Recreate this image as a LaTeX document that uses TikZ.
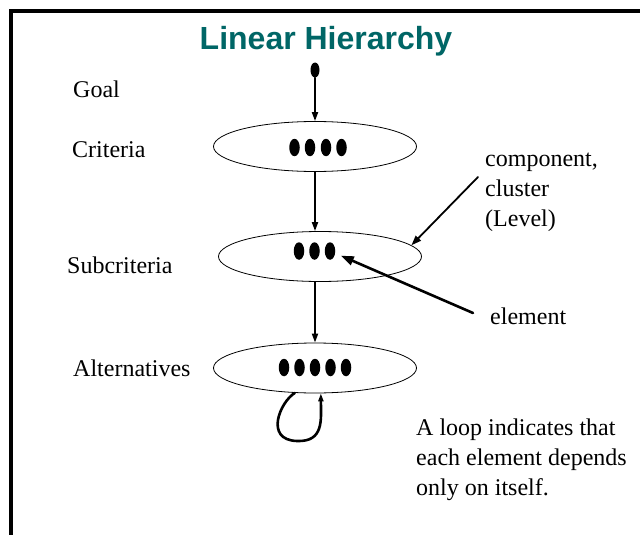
\documentclass[tikz,border=0pt]{standalone}
\usepackage{fontspec}
\setmainfont{Liberation Serif}
\newfontfamily\headfont{Liberation Sans}
\usetikzlibrary{arrows.meta,shapes.geometric}
\definecolor{headteal}{RGB}{0,102,102}

\begin{document}
\begin{tikzpicture}[line cap=round,line join=round,>={Triangle[length=9pt,width=6pt]},x=1pt,y=-1pt,
        level/.style={draw,ellipse,line width=0.8pt,minimum width=203pt,minimum height=50pt,inner sep=0pt},
        elem/.style={fill=black,ellipse,minimum width=10.5pt,minimum height=17.5pt,inner sep=0pt},
        lbl/.style={anchor=base west,inner sep=0pt,align=left,font=\fontsize{24}{30}\selectfont},
        link/.style={->,line width=1.8pt}]
        \useasboundingbox (0,0) rectangle (640,535);
        \draw [line width=4pt,line join=miter,line cap=butt] (11,535) -- (11,11) -- (640,11);
        \node[anchor=base,inner sep=0pt,text=headteal,font=\headfont\bfseries\fontsize{32}{38}\selectfont] (head) at (326,50) {Linear Hierarchy};
        % levels
        \node[elem,minimum width=9pt,minimum height=15pt] (goal) at (315,70) {};
        \node[level] (crit) at (315,146.5) {};
        \node[level] (sub) at (320,256.5) {};
        \node[level] (alt) at (315,368) {};
        \foreach \i/\x in {1/294.5,2/310,3/326,4/341.5}
            \node[elem] (c\i) at (\x,147.5) {};
        \foreach \i/\x in {1/299,2/314.5,3/330}
            \node[elem] (s\i) at (\x,251) {};
        \foreach \i/\x in {1/284,2/299.5,3/315,4/330.5,5/346}
            \node[elem] (a\i) at (\x,367.5) {};
        \draw [link] (goal) -- (goal |- crit.north);
        \draw [link] (crit.south) -- (crit.south |- sub.north);
        \draw [link] (alt.north |- sub.south) -- (alt.north);
        % loop
        \coordinate (loopbot) at (297,441);
        \draw [->,line width=2.6pt,>={Triangle[length=8pt,width=5pt]}] (alt.231) .. controls (280,402) and (264,440) .. (loopbot) .. controls (324,442) and (321,420) .. (alt.283);
        % labels
        \node[lbl] (goallbl) at (73,97) {Goal};
        \node[lbl] (critlbl) at (72,157) {Criteria};
        \node[lbl] (sublbl) at (67,273) {Subcriteria};
        \node[lbl] (altlbl) at (73,376) {Alternatives};
        \node[lbl] (complbl) at (485,226) {component,\\cluster\\(Level)};
        \node[lbl] (elemlbl) at (490,324) {element};
        \node[lbl] (looplbl) at (416,495) {A loop indicates that\\each element depends\\only on itself.};
        \coordinate (comptail) at (478,177);
        \coordinate (elemtail) at (473,313);
        \draw [->,line width=1.8pt,>={Triangle[length=10pt,width=7pt]}] (comptail) -- (sub.7);
        \draw [->,line width=2.6pt,>={Triangle[length=13pt,width=9pt]},shorten >=6pt] (elemtail) -- (s3);
\end{tikzpicture}
\end{document}
